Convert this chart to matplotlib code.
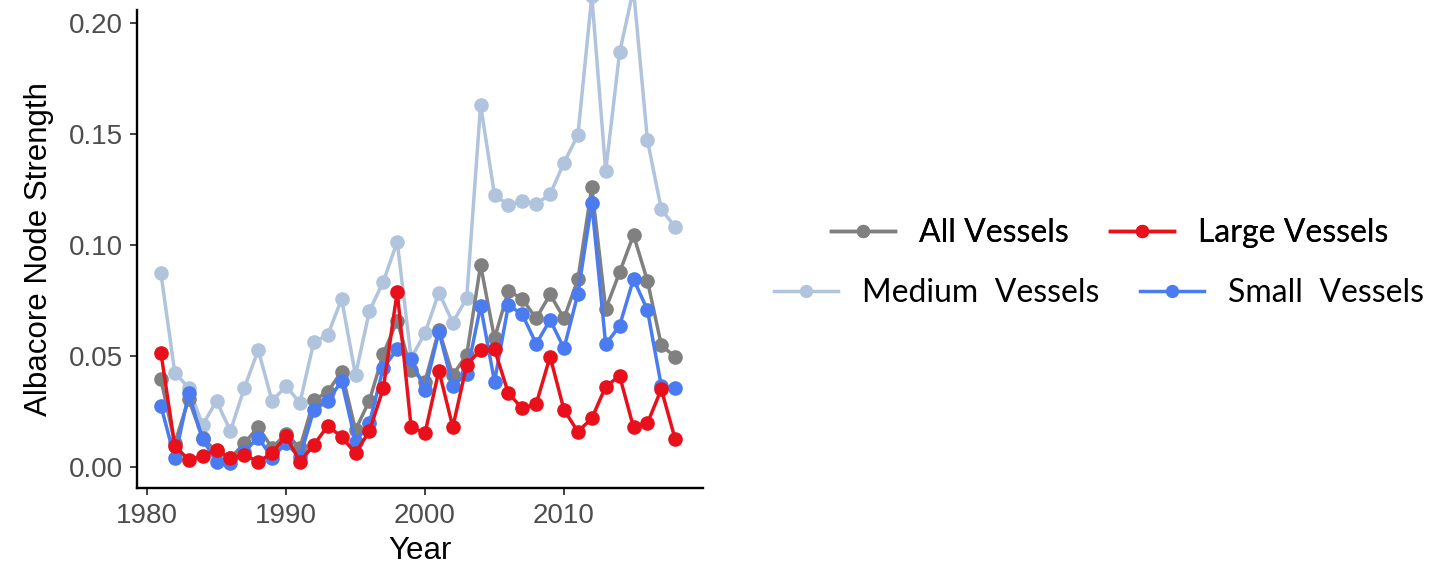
import numpy as np
import matplotlib
matplotlib.use("Agg")
import matplotlib.pyplot as plt

years = np.arange(1981, 2019)

all_vessels = [0.0395, 0.0107, 0.0305, 0.013, 0.007, 0.004, 0.0107, 0.018, 0.0086, 0.015,
               0.0086, 0.030, 0.0339, 0.0429, 0.0167, 0.0299, 0.0509, 0.0659, 0.0437, 0.0384,
               0.0617, 0.0414, 0.0504, 0.0909, 0.0579, 0.0794, 0.0756, 0.0669, 0.0777, 0.0669,
               0.0845, 0.1259, 0.0711, 0.0876, 0.1044, 0.0839, 0.0549, 0.0494]
large_vessels = [0.0515, 0.0095, 0.0032, 0.005, 0.0077, 0.0042, 0.0054, 0.0024, 0.0062, 0.014,
                 0.0024, 0.0099, 0.0185, 0.0136, 0.0062, 0.0162, 0.0354, 0.0789, 0.018, 0.0152,
                 0.0434, 0.018, 0.0459, 0.0527, 0.053, 0.0332, 0.0264, 0.0284, 0.0497, 0.0257,
                 0.0159, 0.0219, 0.0362, 0.041, 0.0179, 0.0197, 0.035, 0.0125]
medium_vessels = [0.0873, 0.0424, 0.0357, 0.0189, 0.0297, 0.0162, 0.0355, 0.0527, 0.0297, 0.0364,
                  0.0289, 0.0562, 0.0594, 0.0756, 0.0414, 0.0702, 0.0834, 0.1014, 0.049, 0.0603,
                  0.0785, 0.065, 0.076, 0.163, 0.1224, 0.118, 0.1197, 0.1184, 0.1227, 0.137,
                  0.1494, 0.212, 0.1332, 0.1866, 0.215, 0.1472, 0.116, 0.108]
small_vessels = [0.0276, 0.0039, 0.0332, 0.0125, 0.0024, 0.0019, 0.0069, 0.0132, 0.0042, 0.0107,
                 0.0044, 0.0257, 0.0297, 0.0387, 0.0114, 0.0197, 0.0447, 0.053, 0.0485, 0.0347,
                 0.0609, 0.0365, 0.0419, 0.0725, 0.0384, 0.0729, 0.0687, 0.0554, 0.0662, 0.0534,
                 0.0779, 0.1187, 0.0552, 0.0636, 0.0846, 0.0707, 0.0365, 0.0354]

x_ticks = [1980, 1990, 2000, 2010]
y_ticks = [0.00, 0.05, 0.10, 0.15, 0.20]

plt.rcParams["font.family"] = ["Liberation Sans", "DejaVu Sans"]

fig = plt.figure(figsize=(14.52, 5.68), dpi=100)
ax = fig.add_axes([137 / 1452, 80 / 568, 566 / 1452, 478 / 568])

style = dict(linewidth=2.5, marker="o", markersize=9.5, clip_on=False)
h_med, = ax.plot(years, medium_vessels, color="#B0C4DE", label="Medium  Vessels", **style)
h_all, = ax.plot(years, all_vessels, color="#808080", label="All Vessels", **style)
h_small, = ax.plot(years, small_vessels, color="#4A7BF0", label="Small  Vessels", **style)
h_large, = ax.plot(years, large_vessels, color="#E8101A", label="Large Vessels", **style)

ax.set_xlim(1979.28, 2020.0)
ax.set_ylim(-0.00945, 0.2057)
ax.set_xticks(x_ticks)
ax.set_yticks(y_ticks)
ax.set_yticklabels([f"{v:.2f}" for v in y_ticks])
ax.tick_params(labelsize=20, labelcolor="#4D4D4D", color="#333333", length=5, width=1.3, pad=5)
ax.tick_params(axis="x", pad=6)
for side in ("top", "right"):
    ax.spines[side].set_visible(False)
for side in ("left", "bottom"):
    ax.spines[side].set_linewidth(1.7)
ax.set_xlabel("Year", fontsize=22.5, labelpad=5)
ax.set_ylabel("Albacore Node Strength", fontsize=22.5, labelpad=11)

legend_kw = dict(loc="center", ncol=2, frameon=False, handlelength=2.0, markerscale=0.9,
                 handletextpad=0.75, columnspacing=1.3, prop={"family": "Lato", "size": 23})
leg1 = fig.legend(handles=[h_all, h_large], bbox_to_anchor=(1110 / 1452, 1 - 233 / 568), **legend_kw)
fig.legend(handles=[h_med, h_small], bbox_to_anchor=(1099 / 1452, 1 - 293 / 568), **legend_kw)
fig.add_artist(leg1)

fig.savefig("out.png", dpi=100)
